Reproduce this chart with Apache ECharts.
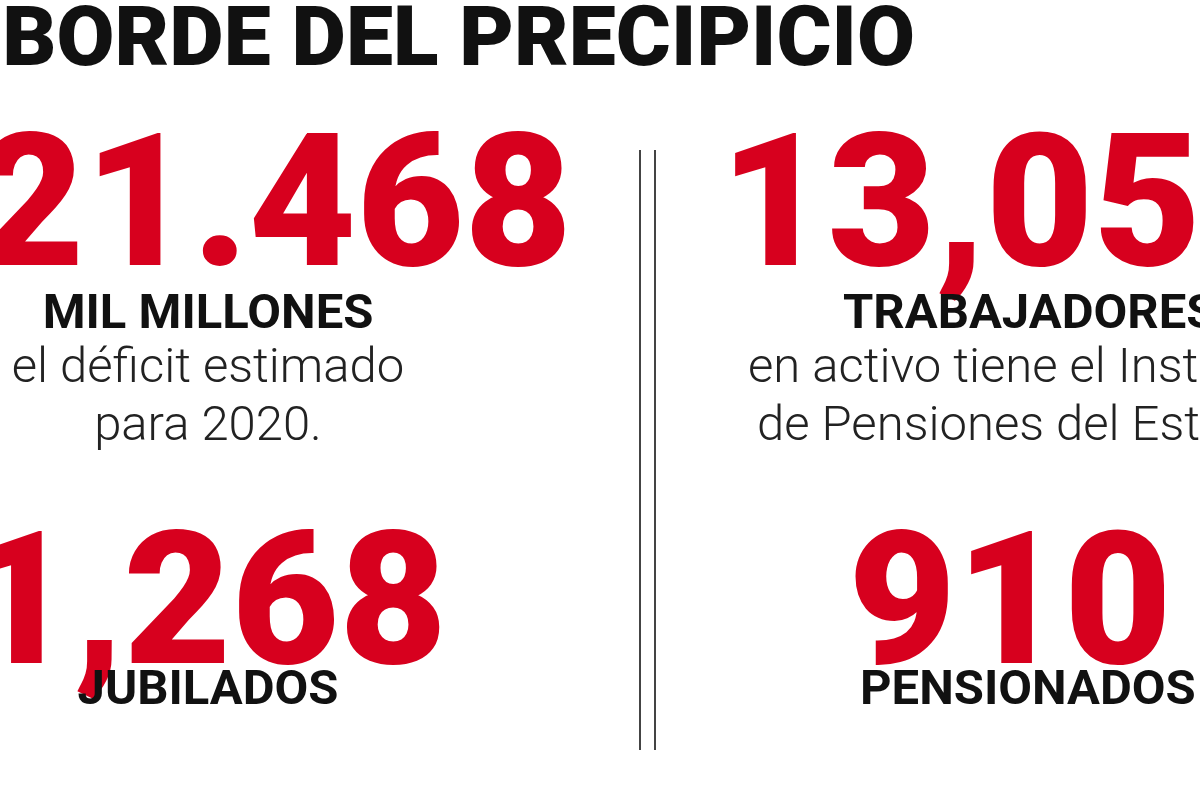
<!DOCTYPE html>
<html><head><meta charset="utf-8">
<script src="https://cdn.jsdelivr.net/npm/echarts@6/dist/echarts.min.js"></script>
<style>html,body{margin:0;padding:0;background:#fff}#c{width:1200px;height:800px}</style>
</head><body><div id="c"></div>
<script>
const title = "AL BORDE DEL PRECIPICIO";
const figures = ["21.468", "13,056", "1,268", "910"];
const headings = ["MIL MILLONES", "TRABAJADORES", "JUBILADOS", "PENSIONADOS"];
const captions = [["el déficit estimado", "para 2020."], ["en activo tiene el Instituto", "de Pensiones del Estado"], [], []];

const RED = "#d7001e";
const layout = [
  {x: 572, align: "right", fy: 125, hx: 208, halign: "center", cx: 208, calign: "center"},
  {x: 720, align: "left", fy: 125, hx: 843, halign: "left", cx: 748, calign: "left"},
  {x: 447, align: "right", fy: 523, hx: 208, halign: "center"},
  {x: 1010, align: "center", fy: 523, hx: 860, halign: "left"}
];
const headY = [291, 291, 667, 667];
const els = [];
els.push({type: "text", style: {text: title, x: 915, y: 2, align: "right", verticalAlign: "top",
  font: "900 84px 'Roboto', 'Liberation Sans', sans-serif", fill: "#111"}});
figures.forEach((f, i) => {
  const L = layout[i];
  els.push({type: "text", style: {text: f, x: L.x, y: L.fy, align: L.align, verticalAlign: "top",
    font: "900 186px 'Roboto', 'Liberation Sans', sans-serif", fill: RED}});
  els.push({type: "text", style: {text: headings[i], x: L.hx, y: headY[i], align: L.halign, verticalAlign: "top",
    font: "700 49px 'Roboto', 'Liberation Sans', sans-serif", fill: "#111"}});
  captions[i].forEach((c, j) => {
    els.push({type: "text", style: {text: c, x: L.cx + (i === 1 && j === 1 ? 9 : 0), y: 345 + j * 58,
      align: L.calign, verticalAlign: "top",
      font: "300 49px 'Roboto', 'Noto Sans', sans-serif", fill: "#222"}});
  });
});
[640, 655].forEach(x => els.push({type: "line", shape: {x1: x, y1: 150, x2: x, y2: 750},
  style: {stroke: "#444", lineWidth: 2}}));

const chart = echarts.init(document.getElementById("c"));
chart.setOption({backgroundColor: "#fff", graphic: {elements: els}});
</script></body></html>
